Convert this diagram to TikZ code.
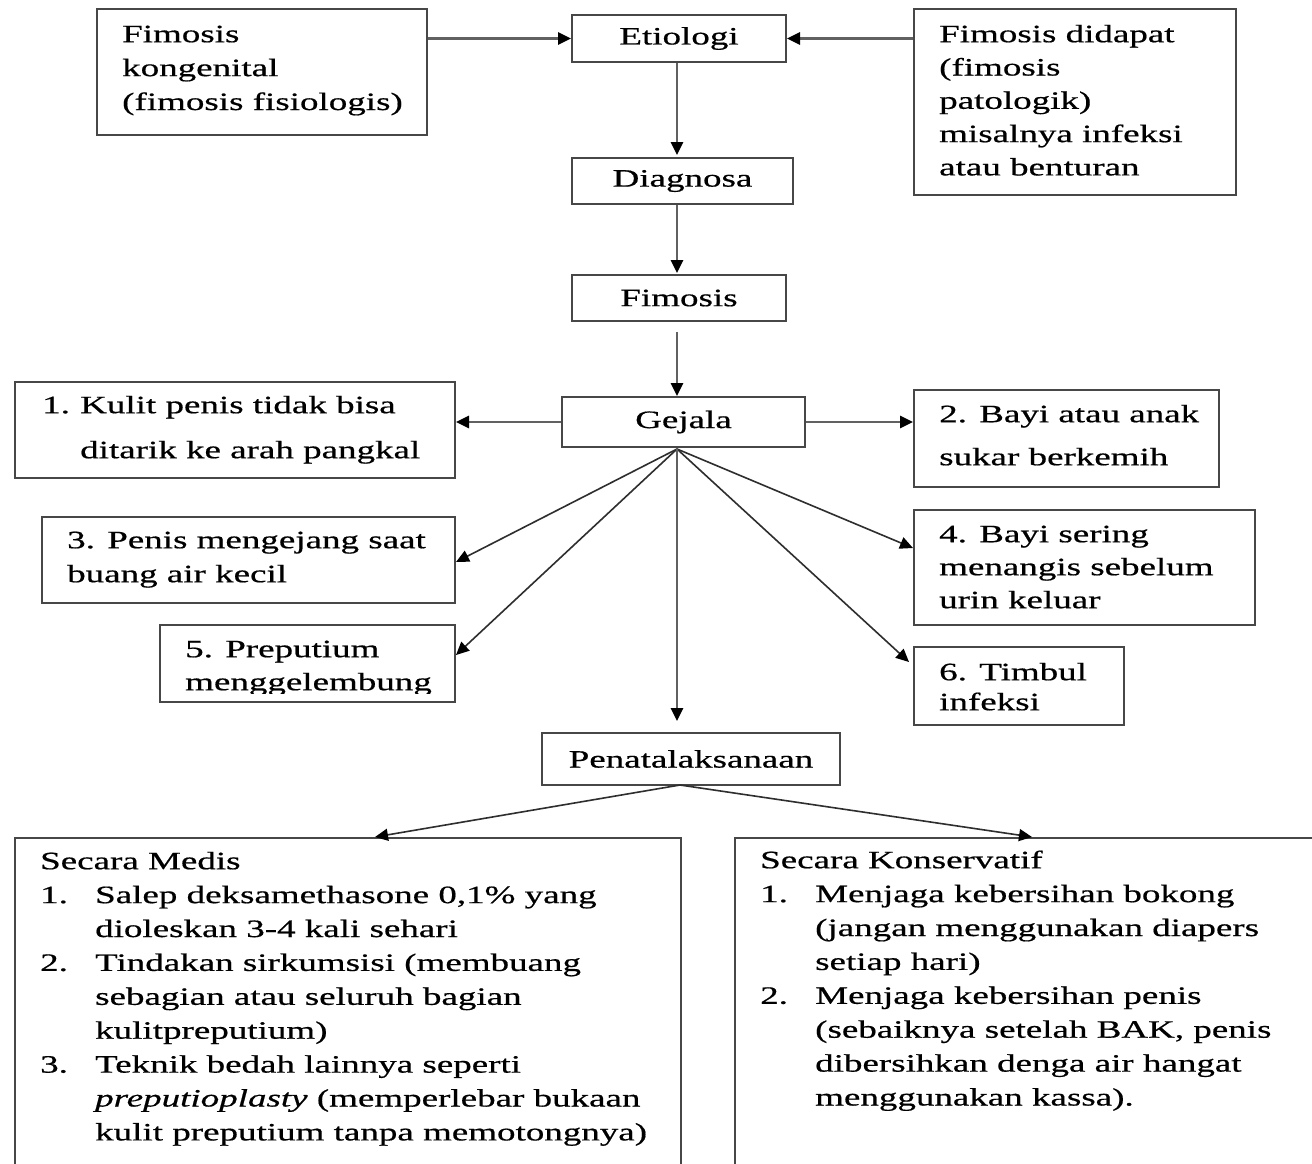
\documentclass[tikz,border=0pt]{standalone}
\usepackage{fontspec}
\setmainfont{Liberation Serif}[FakeStretch=1.48,FakeBold=0.6]
\usetikzlibrary{arrows.meta,calc}
\begin{document}
\begin{tikzpicture}[x=1pt,y=-1pt,
  every node/.style={font=\fontsize{25}{33.9}\selectfont},
  box/.style={draw=black!72,line width=2pt,rectangle,inner sep=0pt},
  lbl/.style={inner sep=0pt,align=left,anchor=north west,text=black},
  arr/.style={draw=black!62,line width=2.6pt,-{Triangle[length=13pt,width=12pt,color=black]}},
  fan/.style={draw=black!82,line width=1.6pt,-{Triangle[length=13pt,width=12pt,color=black]}},
]
\useasboundingbox[fill=white] (0,0) rectangle (1312,1163);

% top row
\node[box,minimum width=330pt,minimum height=126pt] (kong) at (262,72) {};
\node[lbl] (kongT) at (122,21) {\rule{0pt}{21pt}Fimosis\\kongenital\\(fimosis fisiologis)};
\node[box,minimum width=214pt,minimum height=47pt] (eti) at (679,38.5) {Etiologi};
\node[box,minimum width=322pt,minimum height=186pt] (did) at (1075,102) {};
\node[lbl,font=\fontsize{25}{33.3}\selectfont] (didT) at (939,21) {\rule{0pt}{21pt}Fimosis didapat\\(fimosis\\patologik)\\misalnya infeksi\\atau benturan};

% central column
\node[box,minimum width=221pt,minimum height=46pt] (dia) at (682.5,181) {Diagnosa};
\node[box,minimum width=214pt,minimum height=46pt] (fim) at (679,298) {Fimosis};
\node[box,minimum width=243pt,minimum height=50pt] (gej) at (683.5,422) {Gejala};
\node[box,minimum width=298pt,minimum height=52pt] (pen) at (691,759) {Penatalaksanaan};

% symptom boxes
\node[box,minimum width=440pt,minimum height=96pt] (b1) at (235,430) {};
\node[lbl,font=\fontsize{25}{45}\selectfont] (b1T) at (42,392) {\rule{0pt}{21pt}\makebox[38pt][l]{1.}Kulit penis tidak bisa\\\hspace*{38pt}ditarik ke arah pangkal};
\node[box,minimum width=305pt,minimum height=97pt] (b2) at (1066.5,438.5) {};
\node[lbl,font=\fontsize{25}{43}\selectfont] (b2T) at (939,401) {\rule{0pt}{21pt}2. Bayi atau anak\\sukar berkemih};
\node[box,minimum width=413pt,minimum height=86pt] (b3) at (248.5,560) {};
\node[lbl,font=\fontsize{25}{34}\selectfont] (b3T) at (67,527) {\rule{0pt}{21pt}3. Penis mengejang saat\\buang air kecil};
\node[box,minimum width=341pt,minimum height=115pt] (b4) at (1084.5,567.5) {};
\node[lbl,font=\fontsize{25}{33}\selectfont] (b4T) at (939,521) {\rule{0pt}{21pt}4. Bayi sering\\menangis sebelum\\urin keluar};
\node[box,minimum width=295pt,minimum height=77pt] (b5) at (307.5,663.5) {};
\begin{scope}
\clip (160,625) rectangle (455,693);
\node[lbl,font=\fontsize{25}{33}\selectfont] (b5T) at (185,636) {\rule{0pt}{21pt}5. Preputium\\menggelembung};
\end{scope}
\node[box,minimum width=210pt,minimum height=78pt] (b6) at (1019,686) {};
\node[lbl,font=\fontsize{25}{30}\selectfont] (b6T) at (939,659) {\rule{0pt}{21pt}6. Timbul\\infeksi};

% treatment boxes (open at the bottom / right)
\node[box,minimum width=666pt,minimum height=362pt] (med) at (348,1019) {};
\node[lbl] (medT) at (40,848) {\rule{0pt}{21pt}Secara Medis\\
\makebox[55pt][l]{1.}Salep deksamethasone 0,1\% yang\\
\hspace*{55pt}dioleskan 3-4 kali sehari\\
\makebox[55pt][l]{2.}Tindakan sirkumsisi (membuang\\
\hspace*{55pt}sebagian atau seluruh bagian\\
\hspace*{55pt}kulitpreputium)\\
\makebox[55pt][l]{3.}Teknik bedah lainnya seperti\\
\hspace*{55pt}\textit{preputioplasty} (memperlebar bukaan\\
\hspace*{55pt}kulit preputium tanpa memotongnya)};
\node[box,minimum width=665pt,minimum height=362pt] (kon) at (1067.5,1019) {};
\node[lbl] (konT) at (760,847) {\rule{0pt}{21pt}Secara Konservatif\\
\makebox[55pt][l]{1.}Menjaga kebersihan bokong\\
\hspace*{55pt}(jangan menggunakan diapers\\
\hspace*{55pt}setiap hari)\\
\makebox[55pt][l]{2.}Menjaga kebersihan penis\\
\hspace*{55pt}(sebaiknya setelah BAK, penis\\
\hspace*{55pt}dibersihkan denga air hangat\\
\hspace*{55pt}menggunakan kassa).};

% connectors
\coordinate (cx) at (677,0);
\coordinate (fo) at (677,449);
\coordinate (pb) at (680,785);
\draw[arr] (kong.east |- eti) -- (eti.west);
\draw[arr] (did.west |- eti) -- (eti.east);
\draw[arr,shorten >=2pt] (eti.south -| cx) -- (dia.north -| cx);
\draw[arr,shorten >=1pt] (dia.south -| cx) -- (fim.north -| cx);
\draw[arr,shorten <=10pt] (fim.south -| cx) -- (gej.north -| cx);
\draw[arr] (gej.west) -- (b1.east |- gej);
\draw[arr] (gej.east) -- (b2.west |- gej);
\draw[fan] (fo) -- ([yshift=-2pt]b3.east);
\draw[fan] (fo) -- ([yshift=8.5pt]b5.east);
\draw[fan] (fo) -- ([yshift=19.5pt]b4.west);
\draw[fan] (fo) -- ([xshift=-4pt,yshift=24pt]b6.west);
\draw[arr,shorten >=11pt] (fo) -- (pen.north -| cx);
\draw[fan] (pb) -- ([xshift=27pt]med.north);
\draw[fan] (pb) -- ([xshift=-35.5pt]kon.north);
\end{tikzpicture}
\end{document}
